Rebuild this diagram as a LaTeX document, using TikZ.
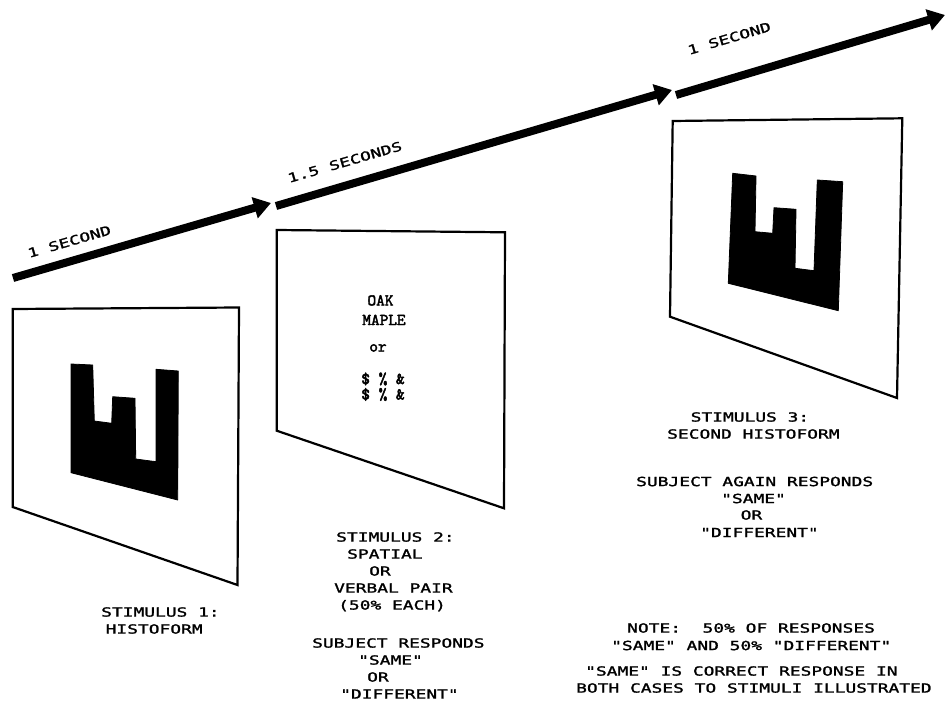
\documentclass[tikz,border=0pt]{standalone}
\usepackage{fontspec}
\usetikzlibrary{arrows.meta}
% plotter lettering: a widened, slightly heavier monospaced sans, loaded raw so that " stays straight
\font\plotfnt="DejaVu Sans Mono:extend=1.42;embolden=1.6" at 12.6pt
% typewriter lettering on the second card
\newfontfamily\typefont[FakeBold=2.6]{lmmono10-regular.otf}
\tikzset{
  panel/.style={draw=black, line width=2.2pt, line join=miter},
  histo/.style={fill=black, draw=black, line width=0.8pt, line join=round},
  timeline/.style={line width=8pt, -{Triangle[length=17pt,width=21pt]}},
  plot/.style={font=\plotfnt, inner sep=0pt, anchor=base west},
  typed/.style={font=\typefont\fontsize{16.5}{18}\selectfont, inner sep=0pt, anchor=base},
}
\begin{document}
\begin{tikzpicture}[x=1pt,y=-1pt]
\useasboundingbox (0,0) rectangle (946,709);

% ---- time line ----
\coordinate (a1s) at (13,278);
\coordinate (a1e) at (271,203);
\coordinate (a2s) at (276,206);
\coordinate (a2e) at (672,90);
\coordinate (a3s) at (676,95);
\coordinate (a3e) at (945,15);
\draw[timeline] (a1s) -- (a1e);
\draw[timeline] (a2s) -- (a2e);
\draw[timeline] (a3s) -- (a3e);
\node[plot, rotate=16.2] (d1) at (29,258) {1 SECOND};
\node[plot, rotate=16.2] (d2) at (289,183) {1.5 SECONDS};
\node[plot, rotate=16.5] (d3) at (689,55) {1 SECOND};

% ---- card 1: histoform ----
\draw[panel] (12.7,309) -- (239,307.5) -- (237.5,585) -- (12.7,507) -- cycle;
\draw[histo] (71,364) -- (92.7,365) -- (94.3,421) -- (111.7,423.3) -- (112.7,396.7)
  -- (135,398.3) -- (135.7,459) -- (156,461.7) -- (156,369.3) -- (178.3,371)
  -- (177.7,500) -- (71,472.7) -- cycle;

% ---- card 2: verbal or spatial pair ----
\draw[panel] (276.7,230) -- (505,232.3) -- (504,508.3) -- (276.7,430.7) -- cycle;
\node[typed] (w1) at (380.5,305.5) {OAK};
\node[typed] (w2) at (384,325) {MAPLE};
\node[typed] (w3) at (378,351.5) {or};
\node[typed] (w4) at (383,384) {\$ \% \&};
\node[typed] (w5) at (383,399.5) {\$ \% \&};

% ---- card 3: second histoform ----
\draw[panel] (672.7,121) -- (902.3,118.3) -- (897,398) -- (670,316.7) -- cycle;
\draw[histo] (732.7,173.3) -- (756,176) -- (755,231.7) -- (772.7,233.3) -- (774,207.7)
  -- (796,209.3) -- (795,268.3) -- (814,270.7) -- (817.3,180) -- (842.7,181.7)
  -- (838.3,310.7) -- (728.3,283.3) -- cycle;

% ---- captions ----
\foreach \x/\y/\t [count=\i] in {
  101/616.6/{STIMULUS 1:},
  105.5/633.6/{HISTOFORM}}
  \node[plot] (c1-\i) at (\x,\y) {\t};

\foreach \x/\y/\t [count=\i] in {
  336/541.6/{STIMULUS 2:},
  347/558.6/{SPATIAL},
  369/575.6/{OR},
  334/592.6/{VERBAL PAIR},
  338/609.6/{(50\% EACH)},
  312/647.6/{SUBJECT RESPONDS},
  358/664.6/{"SAME"},
  367/681.6/{OR},
  340/698.6/{"DIFFERENT"}}
  \node[plot] (c2-\i) at (\x,\y) {\t};

\foreach \x/\y/\t [count=\i] in {
  690.5/421.6/{STIMULUS 3:},
  667/438.6/{SECOND HISTOFORM},
  636/486.1/{SUBJECT AGAIN RESPONDS},
  721/503.1/{"SAME"},
  740.5/519.6/{OR},
  700/537.1/{"DIFFERENT"},
  627/632.6/{NOTE:\ \ 50\% OF RESPONSES},
  611/650.1/{"SAME" AND 50\% "DIFFERENT"},
  585/675.6/{"SAME" IS CORRECT RESPONSE IN},
  576/692.6/{BOTH CASES TO STIMULI ILLUSTRATED}}
  \node[plot] (c3-\i) at (\x,\y) {\t};
\end{tikzpicture}
\end{document}
